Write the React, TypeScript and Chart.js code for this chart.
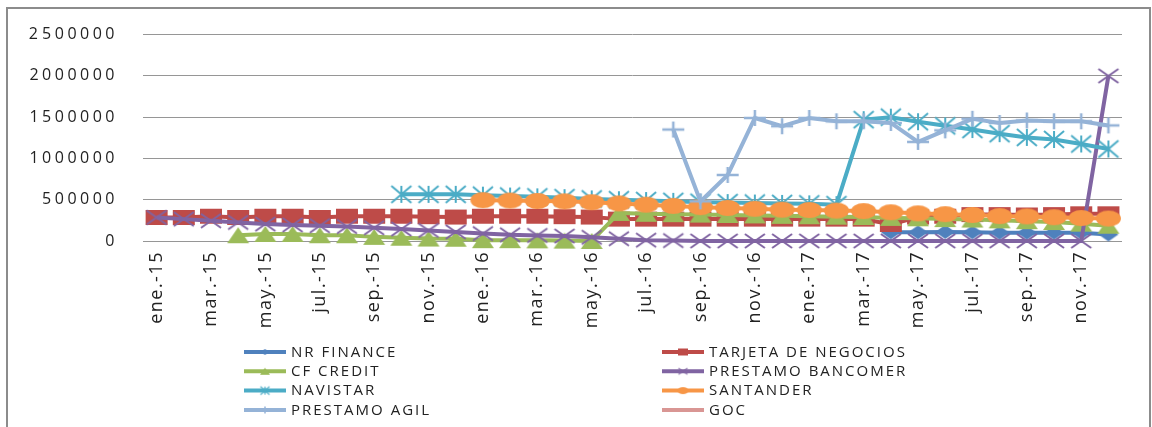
import React, { useEffect, useRef } from 'react';
import { Chart, registerables } from 'chart.js';

Chart.register(...registerables);

const N = null;

const categories = [
  'ene.-15', 'feb.-15', 'mar.-15', 'abr.-15', 'may.-15', 'jun.-15', 'jul.-15', 'ago.-15', 'sep.-15', 'oct.-15', 'nov.-15', 'dic.-15',
  'ene.-16', 'feb.-16', 'mar.-16', 'abr.-16', 'may.-16', 'jun.-16', 'jul.-16', 'ago.-16', 'sep.-16', 'oct.-16', 'nov.-16', 'dic.-16',
  'ene.-17', 'feb.-17', 'mar.-17', 'abr.-17', 'may.-17', 'jun.-17', 'jul.-17', 'ago.-17', 'sep.-17', 'oct.-17', 'nov.-17', 'dic.-17',
];

const yTickLabels = ['0', '500000', '1000000', '1500000', '2000000', '2 500000'];

const nrFinance = [
  N, N, N, N, N, N, N, N, N, N, N, N,
  N, N, N, N, N, N, N, N, N, N, N, N,
  N, N, N, 105000, 105000, 110000, 105000, 100000, 100000, 100000, 100000, 80000,
];
const tarjetaNegocios = [
  285000, 285000, 300000, 285000, 300000, 300000, 285000, 300000, 300000, 300000, 295000, 290000,
  300000, 300000, 300000, 295000, 290000, 265000, 265000, 265000, 265000, 265000, 265000, 265000,
  265000, 265000, 265000, 200000, 290000, 300000, 320000, 320000, 315000, 320000, 330000, 330000,
];
const cfCredit = [
  N, N, N, 70000, 85000, 85000, 70000, 70000, 50000, 40000, 30000, 28000,
  10000, 10000, 8000, 5000, 0, 340000, 330000, 325000, 320000, 315000, 310000, 305000,
  300000, 295000, 290000, 280000, 275000, 265000, 260000, 250000, 240000, 230000, 210000, 185000,
];
const prestamoBancomer = [
  285000, 265000, 245000, 225000, 205000, 195000, 185000, 175000, 160000, 145000, 128000, 110000,
  90000, 75000, 68000, 60000, 45000, 28000, 10000, 5000, 0, 0, 0, 0,
  0, 0, 0, 0, 0, 0, 0, 0, 0, 0, 0, 2000000,
];
const navistar = [
  N, N, N, N, N, N, N, N, N, 565000, 565000, 565000,
  555000, 545000, 535000, 525000, 510000, 500000, 490000, 480000, 470000, 465000, 460000, 455000,
  450000, 440000, 1470000, 1500000, 1445000, 1395000, 1350000, 1300000, 1255000, 1230000, 1175000, 1115000,
];
const santander = [
  N, N, N, N, N, N, N, N, N, N, N, N,
  495000, 490000, 485000, 480000, 470000, 455000, 440000, 425000, 410000, 400000, 390000, 380000,
  375000, 368000, 362000, 348000, 335000, 325000, 315000, 302000, 298000, 288000, 278000, 272000,
];
const prestamoAgil = [
  N, N, N, N, N, N, N, N, N, N, N, N,
  N, N, N, N, N, N, N, 1350000, 480000, 800000, 1490000, 1390000,
  1490000, 1450000, 1450000, 1430000, 1200000, 1340000, 1480000, 1430000, 1460000, 1450000, 1450000, 1400000,
];
const goc = [
  N, N, N, N, N, N, N, N, N, N, N, N,
  N, N, N, N, N, N, N, N, N, N, N, N,
  N, N, N, N, N, N, N, N, N, N, N, N,
];

const seriesNames = [
  'NR FINANCE', 'TARJETA DE NEGOCIOS', 'CF CREDIT', 'PRESTAMO BANCOMER',
  'NAVISTAR', 'SANTANDER', 'PRESTAMO AGIL', 'GOC',
];
const seriesValues = [nrFinance, tarjetaNegocios, cfCredit, prestamoBancomer, navistar, santander, prestamoAgil, goc];

// styles
const seriesColors = ['#4F81BD', '#BE4B48', '#9BBB59', '#8064A2', '#4BACC6', '#F79646', '#95B3D7', '#D99694'];
const seriesMarkers = ['diamond', 'square', 'triangle', 'x', 'asterisk', 'ellipse', 'plus', 'none'];
const markerSizes: Record<string, [number, number]> = {
  diamond: [20, 14], square: [22, 15], triangle: [22, 16], x: [20, 14],
  asterisk: [20, 17], ellipse: [25, 16], plus: [22, 16], none: [1, 1],
};

function makeMarker(kind: string, color: string, scale: number): HTMLCanvasElement {
  const [bw, bh] = markerSizes[kind];
  const w = Math.max(2, Math.round(bw * scale));
  const h = Math.max(2, Math.round(bh * scale));
  const pad = 2;
  const c = document.createElement('canvas');
  c.width = w + pad * 2;
  c.height = h + pad * 2;
  const ctx = c.getContext('2d')!;
  ctx.translate(pad, pad);
  ctx.fillStyle = color;
  ctx.strokeStyle = color;
  ctx.lineWidth = kind === 'plus' ? 2.5 * Math.max(scale, 0.6) : 2 * Math.max(scale, 0.6);
  ctx.lineCap = 'butt';
  ctx.beginPath();
  switch (kind) {
    case 'diamond':
      ctx.moveTo(w / 2, 0); ctx.lineTo(w, h / 2); ctx.lineTo(w / 2, h); ctx.lineTo(0, h / 2); ctx.closePath(); ctx.fill();
      break;
    case 'square':
      ctx.fillRect(0, 0, w, h);
      break;
    case 'triangle':
      ctx.moveTo(w / 2, 0); ctx.lineTo(w, h); ctx.lineTo(0, h); ctx.closePath(); ctx.fill();
      break;
    case 'ellipse':
      ctx.ellipse(w / 2, h / 2, w / 2, h / 2, 0, 0, Math.PI * 2); ctx.fill();
      break;
    case 'x':
      ctx.moveTo(0, 0); ctx.lineTo(w, h); ctx.moveTo(w, 0); ctx.lineTo(0, h); ctx.stroke();
      break;
    case 'asterisk':
      ctx.moveTo(0, 0); ctx.lineTo(w, h); ctx.moveTo(w, 0); ctx.lineTo(0, h);
      ctx.moveTo(w / 2, 0); ctx.lineTo(w / 2, h); ctx.stroke();
      break;
    case 'plus':
      ctx.moveTo(0, h / 2); ctx.lineTo(w, h / 2); ctx.moveTo(w / 2, 0); ctx.lineTo(w / 2, h); ctx.stroke();
      break;
    default:
      break;
  }
  return c;
}

const legendColX = [244, 662];
const legendRowY = [352, 371.3, 390.6, 410];
const legendLineLen = 42;
const legendTextGap = 5;

export default function App() {
  const canvasRef = useRef<HTMLCanvasElement | null>(null);

  useEffect(() => {
    const canvas = canvasRef.current;
    if (!canvas) return;
    const marks = seriesMarkers.map((k, i) => (k === 'none' ? null : makeMarker(k, seriesColors[i], 1)));
    const legendMarks = seriesMarkers.map((k, i) => (k === 'none' ? null : makeMarker(k, seriesColors[i], 0.45)));

    const letterSpacingPlugin = {
      id: 'letterSpacing',
      beforeDraw(chart: any) {
        chart.ctx.letterSpacing = '3.5px';
        chart.ctx.wordSpacing = '-7px';
      },
      beforeDatasetsDraw(chart: any) {
        chart.ctx.letterSpacing = '0px';
        chart.ctx.wordSpacing = '0px';
      },
      afterDatasetsDraw(chart: any) {
        chart.ctx.letterSpacing = '1.5px';
      },
    };

    const legendPlugin = {
      id: 'twoColLegend',
      afterDraw(chart: any) {
        const ctx = chart.ctx as CanvasRenderingContext2D;
        ctx.save();
        (ctx as any).letterSpacing = '2px';
        ctx.font = '15px "Open Sans"';
        ctx.textBaseline = 'middle';
        ctx.textAlign = 'left';
        chart.data.datasets.forEach((ds: any, i: number) => {
          const col = i % 2;
          const row = Math.floor(i / 2);
          const x0 = legendColX[col];
          const y = legendRowY[row];
          ctx.strokeStyle = ds.borderColor;
          ctx.lineWidth = 4;
          ctx.beginPath();
          ctx.moveTo(x0, y);
          ctx.lineTo(x0 + legendLineLen, y);
          ctx.stroke();
          const m = legendMarks[i];
          if (m) ctx.drawImage(m, x0 + legendLineLen / 2 - m.width / 2, y - m.height / 2);
          ctx.fillStyle = '#222222';
          ctx.fillText(ds.label, x0 + legendLineLen + legendTextGap, y + 0.5);
        });
        ctx.restore();
        (ctx as any).letterSpacing = '0px';
      },
    };

    const datasets = seriesNames.map((name, i) => ({
      label: name,
      data: seriesValues[i],
      borderColor: seriesColors[i],
      backgroundColor: seriesColors[i],
      borderWidth: 4,
      pointStyle: marks[i] || false,
      pointRadius: marks[i] ? 5 : 0,
      pointHoverRadius: marks[i] ? 5 : 0,
      fill: false,
      tension: 0,
      spanGaps: false,
      clip: false as any,
      order: seriesNames.length - i,
    }));

    const chart = new Chart(canvas, {
      type: 'line',
      data: { labels: categories, datasets },
      options: {
        responsive: false,
        animation: false,
        events: [],
        layout: { padding: { left: 0, right: 30, top: 30, bottom: 96 } },
        plugins: {
          legend: { display: false },
          tooltip: { enabled: false },
        },
        scales: {
          x: {
            offset: true,
            grid: { display: false, drawTicks: false },
            border: { display: false },
            ticks: {
              autoSkip: false,
              minRotation: 90,
              maxRotation: 90,
              padding: 10,
              z: 1,
              color: '#222222',
              font: { family: '"Open Sans"', size: 18 },
              callback: (_v: any, i: number) => (i % 2 === 0 ? categories[i] : ''),
            },
            afterFit: (s: any) => {
              s.height = 90;
            },
          },
          y: {
            min: 0,
            max: 2500000,
            grid: { color: '#969696', lineWidth: 1, drawTicks: false },
            border: { display: false },
            ticks: {
              stepSize: 500000,
              padding: 25,
              color: '#222222',
              font: { family: '"Open Sans"', size: 16 },
              callback: (_v: any, i: number) => yTickLabels[i],
            },
            afterFit: (s: any) => {
              s.width = 143;
            },
          },
        },
      },
      plugins: [letterSpacingPlugin, legendPlugin],
    });

    return () => {
      chart.destroy();
    };
  }, []);

  return (
    <div style={{ position: 'fixed', left: 0, top: 0, width: 1152, height: 427, overflow: 'hidden', background: '#ffffff' }}>
      <div
        style={{
          position: 'absolute', left: 6, top: 7, width: 1141, height: 500,
          borderLeft: '2px solid #8c8c8c', borderTop: '2px solid #8c8c8c', borderRight: '2px solid #8c8c8c',
        }}
      />
      <canvas ref={canvasRef} width={1152} height={427} style={{ position: 'absolute', left: 0, top: 0, display: 'block' }} />
    </div>
  );
}
